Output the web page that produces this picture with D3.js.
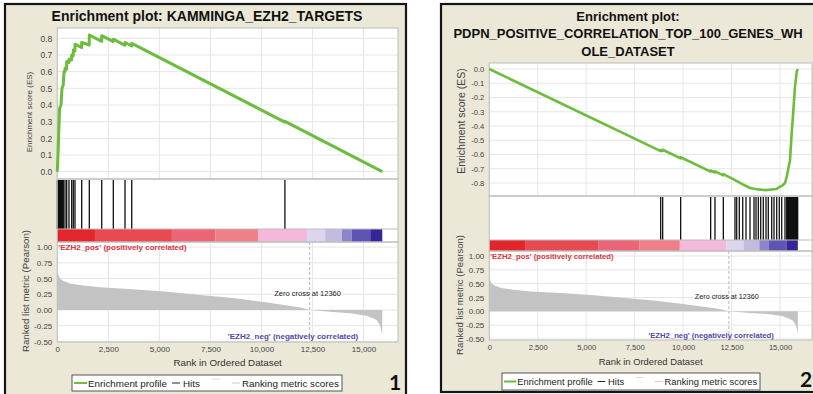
<!DOCTYPE html>
<html><head><meta charset="utf-8">
<script src="https://cdn.jsdelivr.net/npm/d3@7"></script>
<style>
html,body{margin:0;padding:0;background:#fff;overflow:hidden;}
svg{display:block;font-family:"Liberation Sans",Arial,sans-serif;}
</style></head><body>
<svg id="chart" width="813" height="394"></svg>
<script>
// ---------------- data ----------------
const listSize = 15920;
const zeroCross = 12360;
const rankTicks = [0, 2500, 5000, 7500, 10000, 12500, 15000];
const metricTicks = [1, 0.75, 0.5, 0.25, 0, -0.25, -0.5];
const esTicks1 = [0, 0.1, 0.2, 0.3, 0.4, 0.5, 0.6, 0.7, 0.8];
const esTicks2 = [0, -0.1, -0.2, -0.3, -0.4, -0.5, -0.6, -0.7, -0.8];

const title1 = ["Enrichment plot: KAMMINGA_EZH2_TARGETS"];
const title2 = ["Enrichment plot:", "PDPN_POSITIVE_CORRELATION_TOP_100_GENES_WH", "OLE_DATASET"];

// running enrichment score, panel 1
const es1Ranks  = [0, 40, 90, 110, 180, 230, 290, 330, 375, 380, 455, 460, 570, 575, 700, 705, 780, 785, 865, 870,
                   1190, 1195, 1565, 1570, 2175, 2180, 2740, 2745, 3315, 3320, 3645, 3650, 11150, 11155, 15920];
const es1Values = [0, 0.12, 0.30, 0.38, 0.40, 0.50, 0.52, 0.60, 0.60, 0.62, 0.615, 0.66, 0.655, 0.675, 0.67, 0.70, 0.695, 0.73, 0.725, 0.765,
                   0.745, 0.775, 0.76, 0.82, 0.782, 0.816, 0.78, 0.795, 0.758, 0.775, 0.754, 0.77, 0.297, 0.302, 0];
const hits1 = [5, 20, 35, 50, 65, 80, 95, 110, 125, 140, 155, 170, 185, 200, 215, 230, 245, 260, 275, 290, 377, 460, 573, 705, 784, 867,
               1195, 1568, 2176, 2744, 3317, 3646, 11150];

// running enrichment score, panel 2
const es2Ranks  = [0, 8550, 8840, 8845, 8945, 8950, 9870, 9875, 11420, 11425, 11640, 11645, 12075, 12080, 12680, 13080,
                   13450, 13880, 14280, 14570, 14830, 14980, 15100, 15258, 15346, 15516, 15603, 15690, 15774, 15862, 15920];
const es2Values = [0, -0.557, -0.576, -0.568, -0.575, -0.567, -0.627, -0.619, -0.72, -0.712, -0.726, -0.718, -0.746, -0.738, -0.78, -0.81,
                   -0.835, -0.845, -0.85, -0.846, -0.842, -0.826, -0.82, -0.80, -0.756, -0.64, -0.45, -0.29, -0.124, -0.019, 0];
const hits2 = [8843, 8946, 9874, 11422, 11645, 12076, 12677, 12766, 12900, 13076, 13246, 13452, 13659, 13762, 13881,
               14004, 14138, 14278, 14396, 14572, 14690, 14830, 14964, 15088, 15258, 15346, 15375, 15405, 15435, 15465, 15495,
               15525, 15555, 15585, 15615, 15645, 15675, 15705, 15735, 15765, 15795, 15825, 15855, 15885, 15912];

// ranked list metric (shared dataset)
const metricRanks  = [0, 50, 130, 300, 620, 1270, 2100, 3700, 5400, 7000, 8600, 10300, 11900, 12360, 13500, 14350, 15150, 15650, 15820, 15920];
const metricValues = [0.63, 0.56, 0.50, 0.46, 0.42, 0.39, 0.36, 0.33, 0.29, 0.24, 0.19, 0.12, 0.04, 0.0, -0.03, -0.05, -0.09, -0.16, -0.25, -0.40];

// heat colour bar
const colorBreaks = [0, 1845, 5615, 7735, 9830, 12235, 13120, 13935, 14430, 15330, 15920];
const colorBarColors = ["#e3262c", "#e94a52", "#eb6577", "#ef8089", "#f4b8d8", "#dcd5ec", "#c4bbe0", "#8c85c9", "#5e54b3", "#34259a"];

const legendItems = ["Enrichment profile", "Hits", "Ranking metric scores"];
const posLabel = "'EZH2_pos' (positively correlated)";
const negLabel = "'EZH2_neg' (negatively correlated)";
const xTitle = "Rank in Ordered Dataset";
const esTitle = "Enrichment score (ES)";
const metricTitle = "Ranked list metric (Pearson)";

// ---------------- layout ----------------
const panels = [
  { fx0: 5, fx1: 406, fy0: 4, fy1: 397, px0: 57.3, px1: 398, x15k: 363.5,
    titleX: 207, titleY: [20.7], titleFs: 14, titles: title1,
    esTop: 28, esBot: 179, esDom: [0, 0.8], esRange: [171.7, 38.3], esTicks: esTicks1, esFs: 8.5,
    esLabX: 29, esLabY: 112, esLabFs: 8,
    hitsBot: 229, cbBot: 242, mBot: 342, m0: 310, m1: 247.1, mFs: 8,
    mLabX: 25, mLabY: 291, mLabFs: 9.7,
    xFs: 8, xPad: 4.3, xTitleY: 366, xTitleFs: 9.8,
    posY: 249.5, negY: 339, smallFs: 8, zcY: 295.5, zcFs: 7.5,
    legX0: 72, legX1: 342, legY0: 375, legY1: 391, legS: 1,
    num: "1", numX: 395, numY: 390, numFs: 21,
    es: [es1Ranks, es1Values], hits: hits1, lineW: 3 },
  { fx0: 441, fx1: 818, fy0: 4, fy1: 392, px0: 489.3, px1: 812, x15k: 780,
    titleX: 628, titleY: [20.7, 38.4, 56], titleFs: 13, titles: title2,
    esTop: 63, esBot: 196, esDom: [0, -0.8], esRange: [69, 183], esTicks: esTicks2, esFs: 7.6,
    esLabX: 461, esLabY: 121, esLabFs: 10.5,
    hitsBot: 240, cbBot: 251, mBot: 340, m0: 311.3, m1: 256, mFs: 8,
    mLabX: 459, mLabY: 295, mLabFs: 9.5,
    xFs: 7.6, xPad: 4.6, xTitleY: 365, xTitleFs: 9.4,
    posY: 259, negY: 338, smallFs: 7.7, zcY: 298.5, zcFs: 7.2,
    legX0: 502, legX1: 760, legY0: 373, legY1: 390, legS: 0.956,
    num: "2", numX: 806, numY: 387, numFs: 21,
    es: [es2Ranks, es2Values], hits: hits2, lineW: 2.6 }
];

const loc = d3.formatLocale({decimal: ".", thousands: ",", grouping: [3], currency: ["$", ""], minus: "-"});
const svg = d3.select("#chart");

function drawPanel(c) {
  const g = svg.append("g");
  const x = d3.scaleLinear().domain([0, 15000]).range([c.px0, c.x15k]);
  const yES = d3.scaleLinear().domain(c.esDom).range(c.esRange);
  const yM = d3.scaleLinear().domain([0, 1]).range([c.m0, c.m1]);

  // frame
  g.append("rect").attr("x", c.fx0).attr("y", c.fy0).attr("width", c.fx1 - c.fx0).attr("height", c.fy1 - c.fy0)
    .attr("fill", "#ebe8d7").attr("stroke", "#151515").attr("stroke-width", 2.2);

  // titles
  c.titles.forEach((t, i) => {
    g.append("text").attr("x", c.titleX).attr("y", c.titleY[i]).attr("text-anchor", "middle")
      .attr("font-size", c.titleFs).attr("font-weight", "bold").attr("fill", "#111").text(t);
  });

  // plot background
  g.append("rect").attr("x", c.px0).attr("y", c.esTop).attr("width", c.px1 - c.px0).attr("height", c.mBot - c.esTop)
    .attr("fill", "#fff");

  // grid: ES area
  const grid = g.append("g").attr("stroke", "#e6e6e6").attr("stroke-width", 1);
  c.esTicks.forEach(v => grid.append("line").attr("x1", c.px0).attr("x2", c.px1).attr("y1", yES(v)).attr("y2", yES(v)));
  rankTicks.slice(1).forEach(r => grid.append("line").attr("x1", x(r)).attr("x2", x(r)).attr("y1", c.esTop).attr("y2", c.esBot));
  // grid: metric area
  metricTicks.forEach(v => grid.append("line").attr("x1", c.px0).attr("x2", c.px1).attr("y1", yM(v)).attr("y2", yM(v)));
  rankTicks.slice(1).forEach(r => grid.append("line").attr("x1", x(r)).attr("x2", x(r)).attr("y1", c.cbBot).attr("y2", c.mBot));

  // hits
  g.append("g").selectAll("line").data(c.hits).join("line")
    .attr("x1", d => x(d)).attr("x2", d => x(d)).attr("y1", c.esBot + 1).attr("y2", c.hitsBot)
    .attr("stroke", "#111").attr("stroke-width", 1.3);

  // colour bar
  g.append("g").selectAll("rect").data(colorBarColors).join("rect")
    .attr("x", (d, i) => x(colorBreaks[i])).attr("width", (d, i) => x(colorBreaks[i + 1]) - x(colorBreaks[i]))
    .attr("y", c.hitsBot).attr("height", c.cbBot - c.hitsBot).attr("fill", d => d);

  // metric area
  const pts = metricRanks.map((r, i) => [r, metricValues[i]]);
  g.append("path").datum(pts)
    .attr("d", d3.area().x(d => x(d[0])).y0(yM(0)).y1(d => yM(d[1])))
    .attr("fill", "#c3c3c3");

  // zero cross line
  g.append("line").attr("x1", x(zeroCross)).attr("x2", x(zeroCross)).attr("y1", c.cbBot).attr("y2", c.mBot)
    .attr("stroke", "#aaa").attr("stroke-width", 0.8).attr("stroke-dasharray", "3,2");

  // borders of the sub areas
  const b = g.append("g").attr("fill", "none").attr("stroke", "#bcbcbc").attr("stroke-width", 1);
  b.append("rect").attr("x", c.px0).attr("y", c.esTop).attr("width", c.px1 - c.px0).attr("height", c.esBot - c.esTop);
  b.append("rect").attr("x", c.px0).attr("y", c.esBot).attr("width", c.px1 - c.px0).attr("height", c.cbBot - c.esBot);
  b.append("line").attr("x1", c.px0).attr("x2", c.px1).attr("y1", c.hitsBot).attr("y2", c.hitsBot);
  b.append("rect").attr("x", c.px0).attr("y", c.cbBot).attr("width", c.px1 - c.px0).attr("height", c.mBot - c.cbBot);

  // ES curve
  const esPts = c.es[0].map((r, i) => [r, c.es[1][i]]);
  g.append("path").datum(esPts)
    .attr("d", d3.line().x(d => x(d[0])).y(d => yES(d[1])))
    .attr("fill", "none").attr("stroke", "#6cbd3e").attr("stroke-width", c.lineW).attr("stroke-linejoin", "round");

  // axes
  const axEs = g.append("g").attr("transform", `translate(${c.px0},0)`)
    .call(d3.axisLeft(yES).tickValues(c.esTicks).tickFormat(loc.format(".1f")).tickSize(0).tickPadding(5));
  const axM = g.append("g").attr("transform", `translate(${c.px0},0)`)
    .call(d3.axisLeft(yM).tickValues(metricTicks).tickFormat(loc.format(".2f")).tickSize(0).tickPadding(5));
  const axX = g.append("g").attr("transform", `translate(0,${c.mBot})`)
    .call(d3.axisBottom(x).tickValues(rankTicks).tickFormat(loc.format(",")).tickSize(0).tickPadding(c.xPad));
  [axEs, axM, axX].forEach(a => { a.select(".domain").remove(); a.attr("font-family", null); });
  axEs.selectAll("text").attr("font-size", c.esFs).attr("fill", "#444");
  axM.selectAll("text").attr("font-size", c.mFs).attr("fill", "#444");
  axX.selectAll("text").attr("font-size", c.xFs).attr("fill", "#444");

  // axis titles
  g.append("text").attr("transform", `translate(${c.esLabX},${c.esLabY}) rotate(-90)`).attr("text-anchor", "middle")
    .attr("dominant-baseline", "central").attr("font-size", c.esLabFs).attr("fill", "#444").text(esTitle);
  g.append("text").attr("transform", `translate(${c.mLabX},${c.mLabY}) rotate(-90)`).attr("text-anchor", "middle")
    .attr("dominant-baseline", "central").attr("font-size", c.mLabFs).attr("fill", "#444").text(metricTitle);
  g.append("text").attr("x", (c.px0 + c.px1) / 2).attr("y", c.xTitleY).attr("text-anchor", "middle")
    .attr("font-size", c.xTitleFs).attr("fill", "#333").text(xTitle);

  // annotations
  g.append("text").attr("x", c.px0 + 1).attr("y", c.posY).attr("font-size", c.smallFs).attr("font-weight", "bold")
    .attr("fill", "#e2343c").text(posLabel);
  g.append("text").attr("x", x(listSize) - 24).attr("y", c.negY).attr("text-anchor", "end").attr("font-size", c.smallFs)
    .attr("font-weight", "bold").attr("fill", "#5048a8").text(negLabel);
  g.append("text").attr("x", x(zeroCross) - 2).attr("y", c.zcY).attr("text-anchor", "middle").attr("font-size", c.zcFs)
    .attr("fill", "#222").text("Zero cross at " + zeroCross);

  // legend
  const s = c.legS, ly = (c.legY0 + c.legY1) / 2, lx = c.legX0;
  const lg = g.append("g");
  lg.append("rect").attr("x", c.legX0).attr("y", c.legY0).attr("width", c.legX1 - c.legX0).attr("height", c.legY1 - c.legY0)
    .attr("fill", "#fff").attr("stroke", "#555").attr("stroke-width", 1);
  lg.append("line").attr("x1", lx + 2 * s).attr("x2", lx + 15 * s).attr("y1", ly).attr("y2", ly).attr("stroke", "#6cbd3e").attr("stroke-width", 2);
  lg.append("line").attr("x1", lx + 100 * s).attr("x2", lx + 108 * s).attr("y1", ly).attr("y2", ly).attr("stroke", "#222").attr("stroke-width", 1);
  lg.append("line").attr("x1", lx + 140 * s).attr("x2", lx + 148 * s).attr("y1", ly - 4).attr("y2", ly - 4).attr("stroke", "#ddd").attr("stroke-width", 1);
  lg.append("line").attr("x1", lx + 160 * s).attr("x2", lx + 168 * s).attr("y1", ly).attr("y2", ly).attr("stroke", "#d9c9c9").attr("stroke-width", 1);
  const tx = [16, 111, 170];
  legendItems.forEach((t, i) => {
    lg.append("text").attr("x", lx + tx[i] * s).attr("y", ly).attr("dominant-baseline", "central")
      .attr("font-size", 9.8 * s).attr("fill", "#222").text(t);
  });

  // panel number
  g.append("text").attr("x", c.numX).attr("y", c.numY).attr("text-anchor", "middle").attr("font-family", "Lato, 'Open Sans', sans-serif")
    .attr("font-weight", "bold").attr("font-size", c.numFs).attr("fill", "#111").text(c.num);
}

panels.forEach(drawPanel);
</script>
</body></html>
